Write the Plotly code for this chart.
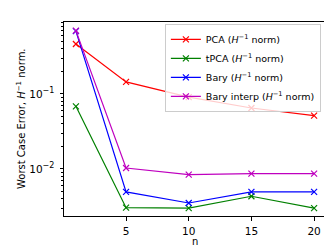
import plotly.graph_objects as go

n = [1, 5, 10, 15, 20]
pca = [0.464, 0.145, 0.091, 0.065, 0.0514]
tpca = [0.0685, 0.00305, 0.0030, 0.00433, 0.0030]
bary = [0.69, 0.00494, 0.00352, 0.00494, 0.00494]
bary_interp = [0.70, 0.0103, 0.0084, 0.00867, 0.00867]
y_ticks = [0.01, 0.1]
y_ticklabels = ["10<sup><span style='font-size:8px'>−2</span></sup>",
                "10<sup><span style='font-size:8px'>−1</span></sup>"]

series = [
    ("PCA (<i>H</i><sup>−1</sup> norm)", pca, "#ff0000"),
    ("tPCA (<i>H</i><sup>−1</sup> norm)", tpca, "#008000"),
    ("Bary (<i>H</i><sup>−1</sup> norm)", bary, "#0000ff"),
    ("Bary interp (<i>H</i><sup>−1</sup> norm)", bary_interp, "#bf00bf"),
]

fig = go.Figure()
for name, vals, col in series:
    fig.add_trace(go.Scatter(
        x=n, y=vals, name=name, mode="lines+markers",
        line=dict(color=col, width=1.2),
        marker=dict(symbol="x-thin", size=6, line=dict(color=col, width=1.2), color=col),
    ))

minor_vals = [k * 10 ** e for e in (-3, -2, -1) for k in range(2, 10)]

fig.update_layout(
    width=332, height=249,
    margin=dict(l=56, r=14, t=14, b=41),
    paper_bgcolor="white", plot_bgcolor="white",
    font=dict(family="DejaVu Sans", color="black", size=10),
    showlegend=True,
    legend=dict(
        x=0.385, y=0.99, xanchor="left", yanchor="top",
        bgcolor="rgba(255,255,255,0.8)", bordercolor="#cccccc", borderwidth=1,
        font=dict(size=9.5), tracegroupgap=0, itemwidth=30,
    ),
    xaxis=dict(
        range=[0.05, 20.95], tickvals=[5, 10, 15, 20],
        showgrid=False, zeroline=False, showline=True, linecolor="black", linewidth=1,
        mirror=True, ticks="outside", ticklen=3.5, tickcolor="black",
        tickfont=dict(size=10.5), ticklabelstandoff=2,
    ),
    yaxis=dict(
        type="log", range=[-2.627, -0.04],
        tickvals=y_ticks, ticktext=y_ticklabels,
        showgrid=False, zeroline=False, showline=True, linecolor="black", linewidth=1,
        mirror=True, ticks="outside", ticklen=3.5, tickcolor="black",
        tickfont=dict(size=10.5), ticklabelstandoff=3,
        minor=dict(tickvals=minor_vals, ticks="outside", ticklen=2, tickcolor="black", showgrid=False),
    ),
    annotations=[
        dict(text="n", xref="paper", yref="paper", x=0.5, y=-0.13,
             xanchor="center", yanchor="middle", showarrow=False, font=dict(size=10)),
        dict(text="Worst Case Error, <i>H</i><sup>−1</sup> norm.", xref="paper", yref="paper",
             x=-0.164, y=0.5, xanchor="center", yanchor="middle", textangle=-90,
             showarrow=False, font=dict(size=10)),
    ],
)

fig.write_html("out.html")
